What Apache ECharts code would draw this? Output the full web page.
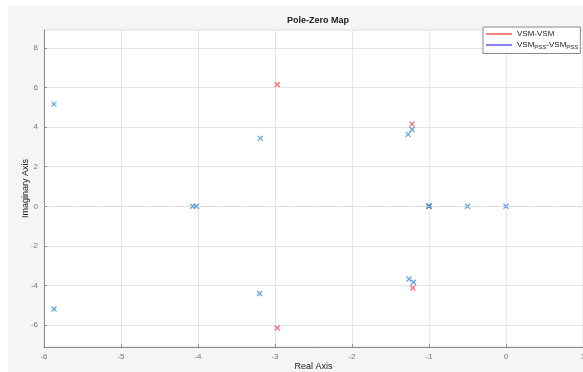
<!DOCTYPE html>
<html><head><meta charset="utf-8">
<script src="https://cdn.jsdelivr.net/npm/echarts@6/dist/echarts.min.js"></script>
<style>html,body{margin:0;padding:0;background:#fff}#c{width:583px;height:372px}</style>
</head><body><div id="c"></div>
<script>
const title = 'Pole-Zero Map';
const xLabel = 'Real Axis';
const yLabel = 'Imaginary Axis';
const xTicks = [-6,-5,-4,-3,-2,-1,0,1];
const yTicks = [-6,-4,-2,0,2,4,6,8];
const seriesNames = ['VSM-VSM','VSM_PSS-VSM_PSS'];
// red poles (VSM-VSM)
const redRe = [-2.97,-2.97,-1.22,-1.21,-1.0];
const redIm = [6.15,-6.14,4.15,-4.12,0];
// blue poles (VSM_PSS-VSM_PSS)
const blueRe = [-5.87,-5.87,-4.07,-4.02,-3.19,-3.20,-1.27,-1.26,-1.22,-1.20,-1.0,-1.0,-0.5,0.0];
const blueIm = [5.16,-5.18,0,0,3.43,-4.40,3.63,-3.67,3.88,-3.83,0,0.02,0,0];

const chart = echarts.init(document.getElementById('c'), null, {renderer:'canvas'});
const xSym = 'path://M0,0L10,10M10,0L0,10';
const font = 'Liberation Sans, Arial, sans-serif';
function pts(re, im){ return re.map((v,i)=>[v, im[i]]); }
const option = {
  animation:false,
  backgroundColor:'#ffffff',
  graphic:[{type:'rect', z:-10, silent:true, shape:{x:8,y:6,width:575,height:366}, style:{fill:'#f5f5f5'}}],
  title:{text:title, left:313, top:11, textAlign:'center', textStyle:{fontFamily:font,fontSize:9,fontWeight:'bold',color:'#222'}},
  grid:{left:44,right:0,top:30,bottom:25,show:true,backgroundColor:'#ffffff',borderColor:'#dcdcdc',borderWidth:1,
        containLabel:false, outerBoundsMode:'none'},
  legend:{
    orient:'vertical', left:483, top:27, padding:[3,2,3,3],
    backgroundColor:'#ffffff', borderColor:'#8a8a8a', borderWidth:1, borderRadius:0,
    itemWidth:26, itemHeight:1.5, itemGap:3,
    textStyle:{fontFamily:font,fontSize:8,color:'#222',
      rich:{n:{fontFamily:font,fontSize:8,color:'#222'}, s:{fontFamily:font,fontSize:6,color:'#222',padding:[5,0,0,0]}}},
    formatter:function(name){
      if(name.indexOf('_')<0) return '{n|'+name+'}';
      return '{n|VSM}{s|PSS}{n|-VSM}{s|PSS}';
    },
    data:[
      {name:seriesNames[0], icon:'rect', itemStyle:{color:'#f03030',borderWidth:0}},
      {name:seriesNames[1], icon:'rect', itemStyle:{color:'#3030f0',borderWidth:0}}
    ]
  },
  xAxis:{
    type:'value', min:-6, max:1, interval:1, name:xLabel, nameLocation:'middle', nameGap:15, nameMoveOverlap:false,
    nameTextStyle:{fontFamily:font,fontSize:9,color:'#222'},
    axisLine:{show:true,onZero:false,lineStyle:{color:'#8c8c8c',width:1}},
    axisTick:{show:true,inside:true,length:3,lineStyle:{color:'#8c8c8c'}},
    axisLabel:{fontFamily:font,fontSize:8,color:'#777',margin:6},
    splitLine:{show:true,lineStyle:{color:'#e6e6e6',width:1}}
  },
  yAxis:{
    type:'value', min:-7.1, max:8.9, name:yLabel, nameLocation:'middle', nameGap:14, nameRotate:90, nameMoveOverlap:false,
    nameTextStyle:{fontFamily:font,fontSize:9,color:'#222'},
    axisLine:{show:true,onZero:false,lineStyle:{color:'#8c8c8c',width:1}},
    axisTick:{show:true,inside:true,length:3,customValues:yTicks,lineStyle:{color:'#8c8c8c'}},
    axisLabel:{fontFamily:font,fontSize:8,color:'#777',margin:6,customValues:yTicks},
    splitLine:{show:true,customValues:yTicks,lineStyle:{color:'#e6e6e6',width:1}}
  },
  series:[
    {name:seriesNames[0], type:'scatter', symbol:xSym, symbolSize:5, z:3,
     itemStyle:{color:'rgba(0,0,0,0)', borderColor:'#f24848', borderWidth:1.3},
     data:pts(redRe, redIm),
     markLine:{silent:true, symbol:'none', label:{show:false},
       lineStyle:{color:'#cfcfcf',type:[1,2],width:1},
       data:[{yAxis:0}]}},
    {name:seriesNames[1], type:'scatter', symbol:xSym, symbolSize:5, z:4,
     itemStyle:{color:'rgba(0,0,0,0)', borderColor:'#3b8fd6', borderWidth:1.3},
     data:pts(blueRe, blueIm)}
  ]
};
chart.setOption(option);
</script></body></html>
